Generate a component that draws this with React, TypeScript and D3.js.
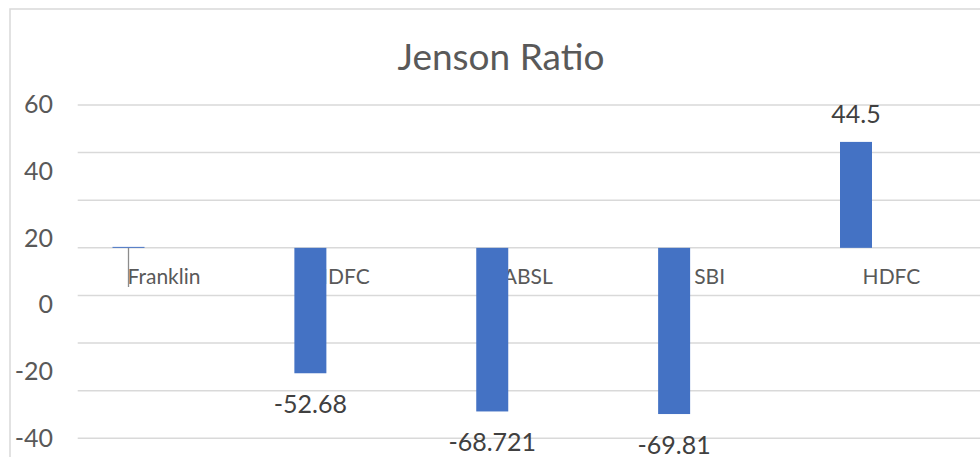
import React, { FC } from "react"
import { scaleLinear, scalePoint } from "d3"

const categories = ["Franklin", "IDFC", "ABSL", "SBI", "HDFC"]
const values = [0.4, -52.68, -68.721, -69.81, 44.5]
const valueLabels = ["", "-52.68", "-68.721", "-69.81", "44.5"]
const gridValues = [60, 40, 20, 0, -20, -40, -60, -80]
const tickLabels = [60, 40, 20, 0, -20, -40]

const App: FC = () => {
  // 1. dimensions
  const width = 980
  const height = 457
  const font = "Lato, 'Open Sans', sans-serif"
  const barWidth = 32

  // 2. scales
  const yScale = scaleLinear().domain([-80, 60]).range([438.3, 105])
  // the axis labels in the picture sit on their own (skewed) scale
  const labelScale = scaleLinear().domain([-40, 60]).range([438, 104])
  const xScale = scalePoint<string>().domain(categories).range([128.5, 856])

  return (
    <svg
      width={width}
      height={height}
      style={{ position: "absolute", left: 0, top: 0, background: "#fff" }}
    >
      {/* frame */}
      <rect x={10} y={9} width={990} height={470} fill="#fff" stroke="#d9d9d9" strokeWidth={1.5} />

      {/* title */}
      <text x={501} y={70} textAnchor="middle" fontFamily={font} fontSize={37} fill="#595959">
        Jenson Ratio
      </text>

      {/* gridlines */}
      {gridValues.map((v) => (
        <line key={v} x1={77.7} x2={width} y1={yScale(v)} y2={yScale(v)} stroke="#d9d9d9" strokeWidth={1.5} />
      ))}

      {/* tick labels */}
      {tickLabels.map((v) => (
        <text key={v} x={53} y={labelScale(v) + 9} textAnchor="end" fontFamily={font} fontSize={25} fill="#595959">
          {v}
        </text>
      ))}

      {/* category labels, drawn under the bars */}
      {categories.map((c) => (
        <text key={c} x={(xScale(c) ?? 0) + 35.5} y={284} textAnchor="middle" fontFamily={font} fontSize={21} fill="#595959">
          {c}
        </text>
      ))}

      {/* leader line under Franklin */}
      <line
        x1={xScale(categories[0]) ?? 0}
        x2={xScale(categories[0]) ?? 0}
        y1={yScale(0)}
        y2={287}
        stroke="#8c8c8c"
        strokeWidth={1.3}
      />

      {/* bars */}
      {categories.map((c, i) => {
        const v = values[i]
        const y0 = yScale(0)
        const y1 = yScale(v)
        return (
          <rect
            key={c}
            x={(xScale(c) ?? 0) - barWidth / 2}
            y={Math.min(y0, y1)}
            width={barWidth}
            height={Math.abs(y1 - y0)}
            fill="#4472c4"
          />
        )
      })}

      {/* value labels */}
      {categories.map((c, i) => {
        const v = values[i]
        const y = v >= 0 ? yScale(v) - 18.8 : yScale(v) + 39.5
        return (
          <text key={c} x={xScale(c) ?? 0} y={y} textAnchor="middle" fontFamily={font} fontSize={25} fill="#404040">
            {valueLabels[i]}
          </text>
        )
      })}
    </svg>
  )
}

export default App
